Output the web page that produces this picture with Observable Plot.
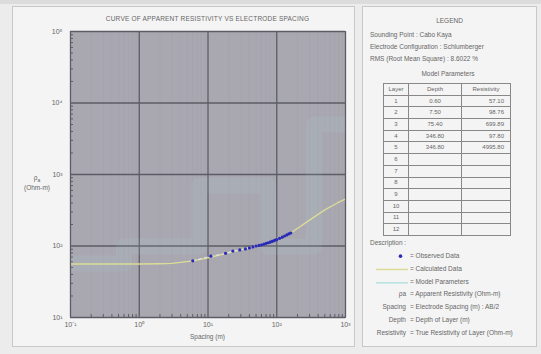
<!DOCTYPE html>
<html><head><meta charset="utf-8">
<script src="https://cdn.jsdelivr.net/npm/d3@7"></script>
<script src="https://cdn.jsdelivr.net/npm/@observablehq/plot@0.6"></script>
<style>
html,body{margin:0;padding:0;background:#ececec;}
body{width:541px;height:354px;position:relative;overflow:hidden;font-family:"Liberation Sans",Arial,sans-serif;color:#555;}
#topstrip{position:absolute;left:0;top:0;width:541px;height:4px;background:#dcdcdc;}
#left{position:absolute;left:12px;top:6px;width:343px;height:341px;background:#f4f4f4;border:1px solid #c8c8c8;box-sizing:border-box;}
#right{position:absolute;left:362px;top:6px;width:175px;height:341px;background:#f4f4f4;border:1px solid #c8c8c8;box-sizing:border-box;}
#chart{position:absolute;left:0;top:0;}
.t{position:absolute;white-space:nowrap;font-size:6.5px;color:#666;}
#title{left:70px;width:275px;top:15px;text-align:center;letter-spacing:0.2px;}
#xlab{left:70px;width:275px;top:333px;text-align:center;}
#ylab{left:20px;width:34px;top:174px;text-align:center;line-height:8px;}
#legend .t{color:#666;}
table.mp{position:absolute;left:383px;top:83px;border-collapse:collapse;font-size:6px;color:#666;}
table.mp td{border:1px solid #888;height:10.7px;padding:0 2px;line-height:9px;}
</style></head>
<body>
<div id="topstrip"></div>
<div id="left"></div>
<div id="right"></div>
<div id="chart"></div>
<div class="t" id="title"></div>
<div class="t" id="xlab"></div>
<div class="t" id="ylab"></div>
<div id="legend"></div>
<script>
// ---- data ----
const titleText = "CURVE OF APPARENT RESISTIVITY VS ELECTRODE SPACING";
const xLabel = "Spacing (m)";
const xTicks = [0.1, 1, 10, 100, 1000];
const yTicks = [10, 100, 1000, 10000, 100000];
// observed data (spacing AB/2 in m, apparent resistivity in Ohm-m)
const spacingObs = [6, 11, 18, 23, 29, 35, 40, 45, 50, 55, 60, 65, 70, 75, 80, 85, 90, 95, 100, 110, 120, 130, 140, 150, 160];
const rhoObs     = [62, 72, 79, 85, 88, 91, 94, 97, 100, 102, 104, 106, 109, 111, 113, 116, 118, 121, 123, 128, 133, 138, 143, 148, 152];
// calculated curve
const spacingCalc = [0.1, 0.5, 1, 2, 3, 6, 10, 20, 40, 80, 160, 300, 500, 760, 1000];
const rhoCalc     = [56, 56, 56, 56.5, 57, 62, 68, 80, 95, 115, 152, 230, 320, 400, 455];
// model parameters
const layerNo     = [1, 2, 3, 4, 5, 6, 7, 8, 9, 10, 11, 12];
const layerDepth  = [0.60, 7.50, 75.40, 346.80, 346.80];
const layerRes    = [57.10, 98.76, 699.89, 97.80, 4995.80];
// legend texts
const legendInfo = ["Sounding Point  :  Cabo Kaya", "Electrode Configuration  :  Schlumberger", "RMS (Root Mean Square)  :  8.6022 %"];
const descSymbols = ["", "", "", "ρa", "Spacing", "Depth", "Resistivity"];
const descTexts = ["Observed Data", "Calculated Data", "Model Parameters", "Apparent Resistivity (Ohm-m)", "Electrode Spacing (m) : AB/2", "Depth of Layer (m)", "True Resistivity of Layer (Ohm-m)"];

const sup = {"-":"⁻","0":"⁰","1":"¹","2":"²","3":"³","4":"⁴","5":"⁵","6":"⁶","7":"⁷","8":"⁸","9":"⁹"};
const pow = v => "10" + String(Math.round(Math.log10(v))).split("").map(c => sup[c]).join("");

const minorX = [], minorY = [];
for (let i = 0; i < xTicks.length - 1; i++) for (let k = 2; k < 10; k++) minorX.push(xTicks[i] * k);
for (let i = 0; i < yTicks.length - 1; i++) for (let k = 2; k < 10; k++) minorY.push(yTicks[i] * k);

const obs = spacingObs.map((s, i) => ({s, r: rhoObs[i]}));
const calc = spacingCalc.map((s, i) => ({s, r: rhoCalc[i]}));
const model = [{s: xTicks[0], r: layerRes[0]}];
for (let i = 0; i < layerDepth.length - 1; i++) {
  model.push({s: layerDepth[i], r: layerRes[i]});
  model.push({s: layerDepth[i], r: layerRes[i + 1]});
}
model.push({s: xTicks[xTicks.length - 1], r: layerRes[layerRes.length - 1]});

const plot = Plot.plot({
  width: 355, height: 345,
  marginLeft: 70, marginRight: 10, marginTop: 31, marginBottom: 28,
  style: {background: "transparent", fontFamily: "Liberation Sans, Arial, sans-serif", fontSize: "6.5px", color: "#666"},
  x: {type: "log", domain: [xTicks[0], xTicks[xTicks.length - 1]], label: null},
  y: {type: "log", domain: [yTicks[0], yTicks[yTicks.length - 1]], label: null},
  marks: [
    Plot.frame({fill: "#a9a8b1"}),
    Plot.gridX(minorX, {stroke: "#a2a1ab", strokeOpacity: 1, strokeWidth: 0.6}),
    Plot.gridX(xTicks, {stroke: "#5d5c66", strokeOpacity: 1, strokeWidth: 1.3}),
    Plot.gridY(yTicks, {stroke: "#5d5c66", strokeOpacity: 1, strokeWidth: 1.3}),
    Plot.axisX(minorX, {tickSize: -3, stroke: "#5d5c66", tickFormat: null, text: null, label: null}),
    Plot.axisY(minorY, {tickSize: -3, stroke: "#5d5c66", tickFormat: null, text: null, label: null}),
    Plot.axisX(xTicks, {tickSize: 0, tickPadding: 5, tickFormat: pow, label: null, fontSize: 7}),
    Plot.axisY(yTicks, {tickSize: 0, tickPadding: 8, tickFormat: pow, label: null, fontSize: 7}),
    Plot.line(model, {x: "s", y: "r", stroke: "#b6e4e0", strokeWidth: 16, strokeOpacity: 0.09, clip: true}),
    Plot.line(calc, {x: "s", y: "r", stroke: "#dcdc98", strokeWidth: 1.3, clip: true}),
    Plot.line(obs, {x: "s", y: "r", stroke: "#e8f4f4", strokeWidth: 1, strokeDasharray: "3,3", strokeOpacity: 0.8}),
    Plot.dot(obs, {x: "s", y: "r", r: 1.6, fill: "#2a2ab8"}),
    Plot.frame({stroke: "#5d5c66", strokeWidth: 1})
  ]
});
document.getElementById("chart").appendChild(plot);
document.getElementById("title").textContent = titleText;
document.getElementById("xlab").textContent = xLabel;
document.getElementById("ylab").innerHTML = "ρ<sub style='font-size:5px'>a</sub><br>(Ohm-m)";

// legend panel
const lg = document.getElementById("legend");
function addText(txt, left, top, extra) {
  const d = document.createElement("div");
  d.className = "t"; d.textContent = txt;
  d.style.left = left + "px"; d.style.top = top + "px";
  if (extra) Object.assign(d.style, extra);
  lg.appendChild(d);
  return d;
}
addText("LEGEND", 362, 17, {width: "175px", textAlign: "center"});
legendInfo.forEach((t, i) => addText(t, 370, 31 + i * 12));
addText("Model Parameters", 383, 70, {width: "130px", textAlign: "center"});
const tbl = document.createElement("table"); tbl.className = "mp";
const hdr = tbl.insertRow();
[["Layer", 20, "center"], ["Depth", 48, "center"], ["Resistivity", 44, "center"]].forEach(([h, w, a]) => {
  const c = hdr.insertCell(); c.textContent = h; c.style.width = w + "px"; c.style.textAlign = a;
});
layerNo.forEach((n, i) => {
  const row = tbl.insertRow();
  const c0 = row.insertCell(); c0.textContent = n; c0.style.textAlign = "center";
  const c1 = row.insertCell(); c1.textContent = i < layerDepth.length ? layerDepth[i].toFixed(2) : ""; c1.style.textAlign = "center";
  const c2 = row.insertCell(); c2.textContent = i < layerRes.length ? layerRes[i].toFixed(2) : ""; c2.style.textAlign = "right"; c2.style.paddingRight = "6px";
});
lg.appendChild(tbl);
addText("Description :", 370, 239);
descTexts.forEach((t, i) => {
  const y = 252 + i * 12.8;
  if (descSymbols[i]) addText(descSymbols[i], 362, y, {width: "44px", textAlign: "right"});
  addText("=  " + t, 410, y);
});
// legend symbols drawn with Plot
const sym = Plot.plot({
  width: 40, height: 40, margin: 0,
  x: {domain: [0, 1], axis: null}, y: {domain: [2.5, -0.5], axis: null},
  style: {background: "transparent"},
  marks: [
    Plot.ruleY([1], {x1: 0.15, x2: 0.95, stroke: "#dcdc98", strokeWidth: 1.5}),
    Plot.ruleY([2], {x1: 0.15, x2: 0.95, stroke: "#b6e4e0", strokeWidth: 1.5}),
    Plot.dot([{x: 0.75, y: 0}], {x: "x", y: "y", r: 1.8, fill: "#2a2ab8"})
  ]
});
sym.style.position = "absolute"; sym.style.left = "370px"; sym.style.top = "249px";
lg.appendChild(sym);
</script>
</body></html>
